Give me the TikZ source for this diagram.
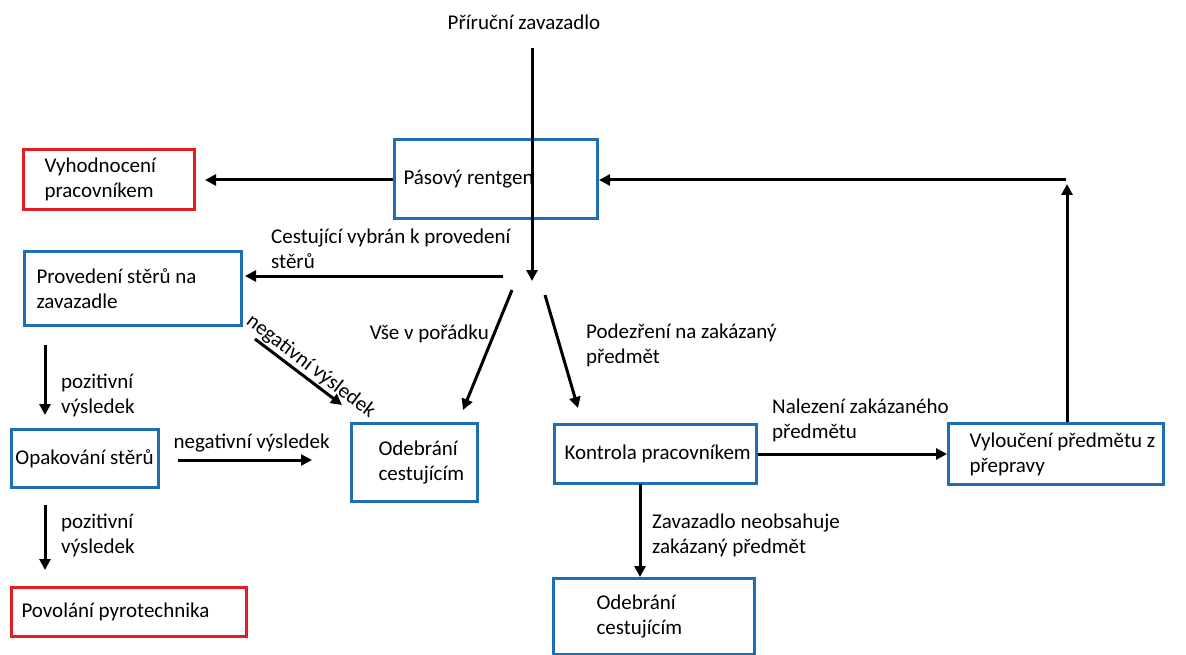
\documentclass[tikz,border=0pt]{standalone}
\usepackage{fontspec}
\setmainfont{Carlito}
\usetikzlibrary{arrows.meta}
\definecolor{boxblue}{RGB}{30,110,182}
\definecolor{boxred}{RGB}{228,28,36}
\tikzset{
  every node/.style={font=\fontsize{21}{25}\selectfont},
  bluebox/.style={draw=boxblue, line width=3pt, anchor=north west, align=flush left, inner sep=0pt},
  redbox/.style={bluebox, draw=boxred},
  pad/.style={execute at begin node={\leftskip=#1pt}},
  lbl/.style={align=flush left, inner sep=0pt},
  arr/.style={line width=3pt, ->},
  >={Triangle[length=11pt,width=11pt]}
}
\begin{document}
\begin{tikzpicture}[x=1pt,y=-1pt]
\useasboundingbox (0,0) rectangle (1186,655);
% boxes
\node[bluebox, pad=9, minimum height=79, text width=203] (rtg) at (393,138) {Pásový rentgen};
\node[redbox, pad=21, minimum height=60, text width=171] (vyh) at (22,148) {Vyhodnocení\\pracovníkem};
\node[bluebox, pad=12, minimum height=74, text width=217] (prov) at (23,250) {Provedení stěrů na\\zavazadle};
\node[bluebox, pad=4, minimum height=58, text width=147] (opak) at (10,428) {Opakování stěrů};
\node[bluebox, pad=27, minimum height=78, text width=126] (odeb1) at (350,422) {Odebrání\\cestujícím};
\node[bluebox, pad=10, minimum height=59, text width=202] (kontr) at (553,423) {Kontrola pracovníkem};
\node[bluebox, pad=21, minimum height=61, text width=215] (vyl) at (947,422) {Vyloučení předmětu z\\přepravy};
\node[bluebox, pad=43, minimum height=76, text width=201] (odeb2) at (552,577) {Odebrání\\cestujícím};
\node[redbox, pad=10, minimum height=49, text width=235] (povol) at (10,586) {Povolání pyrotechnika};
% free ends
\node (lug) at (524,22) {Příruční zavazadlo};
\coordinate (intop) at (532,48);
\coordinate (fork) at (532,281);
\coordinate (cs1) at (503,276);
\coordinate (cs2) at (245,276);
\coordinate (ok1) at (512,290);
\coordinate (ok2) at (463,410);
\coordinate (sus1) at (545,295);
\coordinate (sus2) at (578,408);
\coordinate (ng1) at (255,339);
\coordinate (ng2) at (342,405);
\coordinate (pz1) at (45,345);
\coordinate (pz2) at (45,415);
\coordinate (ng3) at (178,460);
\coordinate (ng4) at (312,460);
\coordinate (pz3) at (45,505);
\coordinate (pz4) at (45,570);
\coordinate (zn1) at (640,484);
\coordinate (zn2) at (640,577);
\coordinate (up1) at (1067,422);
\coordinate (up2) at (1067,184);
\coordinate (back) at (1066,180);
% connectors
\draw[arr] (intop) -- (fork);
\draw[arr, shorten >=9pt] (rtg.west |- back) -- (vyh.east |- back);
\draw[arr] (up1) -- (up2);
\draw[arr] (back) -- (rtg.east |- back);
\draw[arr] (cs1) -- (cs2);
\node[lbl, anchor=west] (cslbl) at (271,249) {Cestující vybrán k provedení\\stěrů};
\draw[arr] (ok1) -- (ok2);
\node[lbl, anchor=east] (oklbl) at (489,334) {Vše v pořádku};
\draw[arr] (sus1) -- (sus2);
\node[lbl, anchor=west] (suslbl) at (586,345) {Podezření na zakázaný\\předmět};
\draw[arr] (ng1) -- node[sloped, above, pos=0.56, inner sep=1pt] {negativní výsledek} (ng2);
\draw[arr] (pz1) -- (pz2);
\node[lbl, anchor=west] (pzlbl1) at (61,395) {pozitivní\\výsledek};
\draw[arr] (ng3) -- node[above, pos=0.55, inner sep=6pt] {negativní výsledek} (ng4);
\draw[arr] (pz3) -- (pz4);
\node[lbl, anchor=west] (pzlbl2) at (61,535) {pozitivní\\výsledek};
\draw[arr] (kontr.east) -- (vyl.west |- kontr.east);
\node[lbl, anchor=west] (nzlbl) at (772,420) {Nalezení zakázaného\\předmětu};
\draw[arr] (zn1) -- (zn2);
\node[lbl, anchor=west] (znlbl) at (652,535) {Zavazadlo neobsahuje\\zakázaný předmět};
\end{tikzpicture}
\end{document}
